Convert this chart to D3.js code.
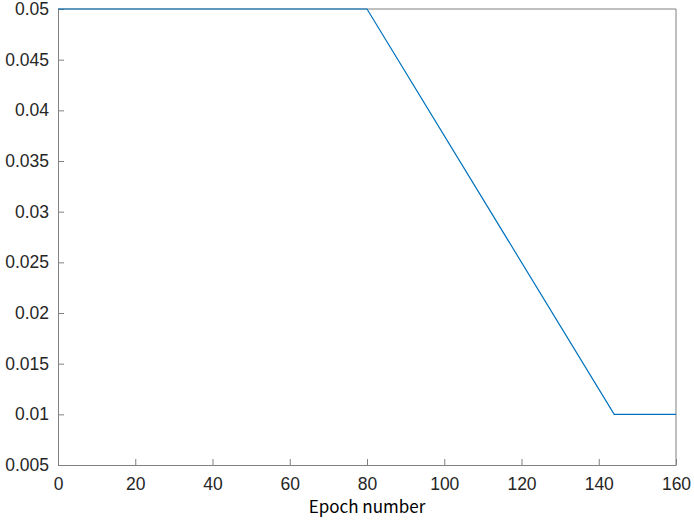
<!DOCTYPE html>
<html><head><meta charset="utf-8">
<script src="https://cdn.jsdelivr.net/npm/d3@7"></script>
<style>body{margin:0;background:#fff}svg{display:block}</style>
</head><body>
<script>
const epochs = [0, 80, 144, 160];
const learningRate = [0.05, 0.05, 0.01, 0.01];
const xTicks = [0, 20, 40, 60, 80, 100, 120, 140, 160];
const yTicks = [0.005, 0.01, 0.015, 0.02, 0.025, 0.03, 0.035, 0.04, 0.045, 0.05];
const xLabel = "Epoch number";

const W = 694, H = 530;
const m = {left: 58, right: 18, top: 9, bottom: 65};
const svg = d3.select("body").append("svg").attr("width", W).attr("height", H);
const x = d3.scaleLinear().domain([0, 160]).range([m.left, W - m.right]);
const y = d3.scaleLinear().domain([0.005, 0.05]).range([H - m.bottom, m.top]);
const axCol = "#808080", txtCol = "#262626", font = "Liberation Sans, Arial, sans-serif";

function style(g){
  g.select(".domain").attr("stroke", axCol);
  g.selectAll(".tick line").attr("stroke", axCol);
  g.selectAll(".tick text").attr("fill", txtCol).attr("font-family", font).attr("font-size", 17.5);
}
svg.append("g").attr("transform", `translate(0,${y.range()[0]})`)
  .call(d3.axisBottom(x).tickValues(xTicks).tickSize(-6).tickPadding(13).tickSizeOuter(0).tickFormat(d3.format("d")))
  .call(style);
svg.append("g").attr("transform", `translate(${x.range()[0]},0)`)
  .call(d3.axisLeft(y).tickValues(yTicks).tickSize(-6).tickPadding(9).tickSizeOuter(0).tickFormat(d => String(+d.toFixed(3))))
  .call(style);
svg.append("line").attr("x1", x(0)).attr("x2", x(160)).attr("y1", y(0.05)).attr("y2", y(0.05)).attr("stroke", axCol);
svg.append("line").attr("x1", x(160)).attr("x2", x(160)).attr("y1", y(0.05)).attr("y2", y(0.005)).attr("stroke", axCol);

const line = d3.line().x((d,i) => x(epochs[i])).y(d => y(d));
svg.append("path").datum(learningRate).attr("d", line).attr("fill", "none")
  .attr("stroke", "#0072BD").attr("stroke-width", 1.2);

svg.append("text").attr("x", (x(0)+x(160))/2).attr("y", 513).attr("text-anchor", "middle")
  .attr("font-family", "Noto Sans CJK SC, Noto Sans, sans-serif").attr("font-size", 17)
  .attr("fill", "#000").text(xLabel);
</script>
</body></html>
